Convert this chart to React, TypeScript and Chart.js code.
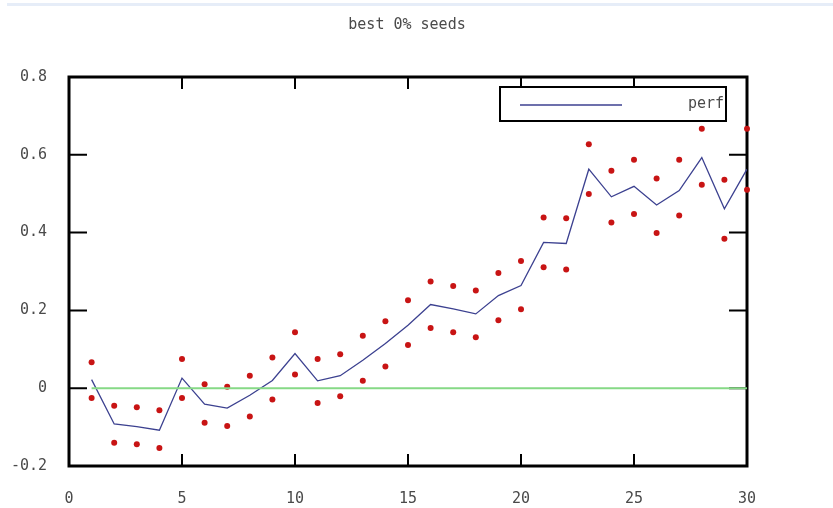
import { useEffect, useRef } from 'react';
import { Chart, registerables } from 'chart.js';

Chart.register(...registerables);

const chartTitle = 'best 0% seeds';
const legendLabel = 'perf';

const xValues = [1, 2, 3, 4, 5, 6, 7, 8, 9, 10, 11, 12, 13, 14, 15, 16, 17, 18, 19, 20, 21, 22, 23, 24, 25, 26, 27, 28, 29, 30];
const perf = [0.022, -0.092, -0.099, -0.108, 0.026, -0.041, -0.051, -0.018, 0.02, 0.089, 0.019, 0.032, 0.072, 0.115, 0.162, 0.215, 0.204, 0.191, 0.238, 0.264, 0.375, 0.372, 0.563, 0.492, 0.519, 0.471, 0.508, 0.593, 0.461, 0.563];
const upper = [0.067, -0.045, -0.049, -0.057, 0.075, 0.01, 0.004, 0.032, 0.079, 0.144, 0.075, 0.087, 0.135, 0.172, 0.226, 0.274, 0.263, 0.251, 0.296, 0.327, 0.439, 0.437, 0.627, 0.559, 0.587, 0.539, 0.587, 0.667, 0.536, 0.667];
const lower = [-0.025, -0.14, -0.144, -0.154, -0.025, -0.089, -0.097, -0.073, -0.029, 0.035, -0.038, -0.021, 0.019, 0.056, 0.111, 0.155, 0.144, 0.131, 0.175, 0.203, 0.311, 0.305, 0.499, 0.426, 0.448, 0.399, 0.444, 0.523, 0.384, 0.51];
const zeroX = [1, 30];
const zeroY = [0, 0];

const xTicks = [0, 5, 10, 15, 20, 25, 30];
const xTickLabels = ['0', '5', '10', '15', '20', '25', '30'];
const yTicks = [-0.2, 0, 0.2, 0.4, 0.6, 0.8];
const yTickLabels = ['-0.2', '0', '0.2', '0.4', '0.6', '0.8'];

const FONT = '"DejaVu Sans Mono", monospace';
const TEXT_COLOR = '#4a4a4a';

const framePlugin = {
  id: 'frame',
  beforeDatasetsDraw(chart: any) {
    const { ctx, chartArea, scales } = chart;
    const { left, right, top, bottom } = chartArea;
    ctx.save();
    ctx.strokeStyle = '#000';
    ctx.lineWidth = 2;
    ctx.beginPath();
    xTicks.forEach((v) => {
      const px = scales.x.getPixelForValue(v);
      ctx.moveTo(px, bottom);
      ctx.lineTo(px, bottom - 12);
      ctx.moveTo(px, top);
      ctx.lineTo(px, top + 12);
    });
    yTicks.forEach((v) => {
      const py = scales.y.getPixelForValue(v);
      ctx.moveTo(left, py);
      ctx.lineTo(left + 18, py);
      ctx.moveTo(right, py);
      ctx.lineTo(right - 18, py);
    });
    ctx.stroke();
    ctx.lineWidth = 3;
    ctx.strokeRect(left, top, right - left, bottom - top);
    ctx.restore();
  },
  afterDraw(chart: any) {
    const { ctx, chartArea, width } = chart;
    const { left, right, top } = chartArea;
    ctx.save();
    // page strip at top
    ctx.fillStyle = '#e6edf8';
    ctx.fillRect(7, 3, width - 7, 3);
    // title
    ctx.fillStyle = TEXT_COLOR;
    ctx.font = `15px ${FONT}`;
    ctx.textAlign = 'center';
    ctx.textBaseline = 'middle';
    ctx.fillText(chartTitle, (left + right) / 2 - 1, 25);
    // legend
    const bx = right - 247;
    const bw = 226;
    const by = top + 10;
    const bh = 34;
    ctx.fillStyle = '#fff';
    ctx.fillRect(bx, by, bw, bh);
    ctx.strokeStyle = '#000';
    ctx.lineWidth = 2;
    ctx.strokeRect(bx, by, bw, bh);
    ctx.strokeStyle = '#3c4190';
    ctx.lineWidth = 1.3;
    ctx.beginPath();
    ctx.moveTo(bx + 20, by + 18);
    ctx.lineTo(bx + 122, by + 18);
    ctx.stroke();
    ctx.fillStyle = TEXT_COLOR;
    ctx.font = `15px ${FONT}`;
    ctx.textAlign = 'right';
    ctx.textBaseline = 'middle';
    ctx.fillText(legendLabel, bx + bw - 2, by + 17);
    ctx.restore();
  },
};

export default function App() {
  const ref = useRef<HTMLCanvasElement | null>(null);

  useEffect(() => {
    if (!ref.current) return;
    const pts = (ys: number[], xs: number[]) => ys.map((y, i) => ({ x: xs[i], y }));
    const chart = new Chart(ref.current, {
      type: 'scatter',
      data: {
        datasets: [
          {
            label: 'zero',
            data: pts(zeroY, zeroX),
            showLine: true,
            borderColor: '#86d986',
            borderWidth: 2,
            pointRadius: 0,
          },
          {
            label: 'upper',
            data: pts(upper, xValues),
            showLine: false,
            backgroundColor: '#c81414',
            borderColor: '#c81414',
            pointRadius: 3,
            borderWidth: 0,
            clip: false,
          },
          {
            label: 'lower',
            data: pts(lower, xValues),
            showLine: false,
            backgroundColor: '#c81414',
            borderColor: '#c81414',
            pointRadius: 3,
            borderWidth: 0,
            clip: false,
          },
          {
            label: legendLabel,
            data: pts(perf, xValues),
            showLine: true,
            borderColor: '#3c4190',
            borderWidth: 1.3,
            pointRadius: 0,
            tension: 0,
          },
        ],
      } as any,
      options: {
        animation: false,
        responsive: true,
        maintainAspectRatio: false,
        layout: { padding: { top: 77, right: 86, left: 0, bottom: 0 } },
        plugins: {
          legend: { display: false },
          title: { display: false },
          tooltip: { enabled: false },
        },
        scales: {
          x: {
            type: 'linear',
            min: 0,
            max: 30,
            grid: { display: false, drawTicks: false },
            border: { display: false },
            afterBuildTicks: (s: any) => {
              s.ticks = xTicks.map((v) => ({ value: v }));
            },
            afterFit: (s: any) => {
              s.height = 42;
            },
            ticks: {
              padding: 24,
              color: TEXT_COLOR,
              font: { family: FONT, size: 15 },
              maxRotation: 0,
              autoSkip: false,
              callback: (v: any) => {
                const i = xTicks.indexOf(Number(v));
                return i >= 0 ? xTickLabels[i] : '';
              },
            },
          },
          y: {
            type: 'linear',
            min: -0.2,
            max: 0.8,
            grid: { display: false, drawTicks: false },
            border: { display: false },
            afterBuildTicks: (s: any) => {
              s.ticks = yTicks.map((v) => ({ value: v }));
            },
            afterFit: (s: any) => {
              s.width = 69;
            },
            ticks: {
              padding: 22,
              color: TEXT_COLOR,
              font: { family: FONT, size: 15 },
              autoSkip: false,
              callback: (v: any) => {
                const i = yTicks.findIndex((t) => Math.abs(t - Number(v)) < 1e-9);
                return i >= 0 ? yTickLabels[i] : '';
              },
            },
          },
        },
      } as any,
      plugins: [framePlugin],
    });
    return () => chart.destroy();
  }, []);

  return (
    <div style={{ position: 'absolute', left: 0, top: 0, width: 833, height: 508, background: '#fff' }}>
      <canvas ref={ref} />
    </div>
  );
}
